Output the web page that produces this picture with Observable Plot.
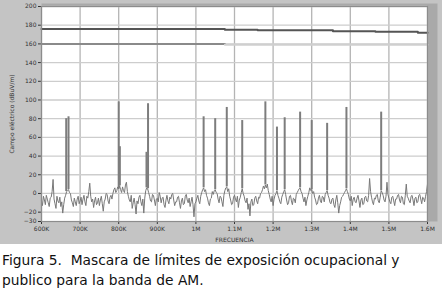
<!DOCTYPE html>
<html>
<head>
<meta charset="utf-8">
<script src="https://cdn.jsdelivr.net/npm/d3@7"></script>
<script src="https://cdn.jsdelivr.net/npm/@observablehq/plot@0.6"></script>
<style>
  html, body { margin: 0; padding: 0; background: #fff; }
  #chart svg { display: block; }
  .caption { font-family: "DejaVu Sans", sans-serif; font-size: 13.8px; color: #111; line-height: 20px; padding: 6px 0 0 2px; white-space: nowrap; }
</style>
</head>
<body>
<div id="chart"></div>
<div class="caption">Figura 5.&nbsp; Mascara de límites de exposición ocupacional y<br>publico para la banda de AM.</div>
<script>
// Noise floor sampling (kHz): 600 .. 1600 every 2.5 kHz
const startKHz = 600;
const stepKHz = 2.5;
const noise = [
  -8,-13,-3,-7,-12,-2,-6,-10,-14,-5,-4,2,15,-6,-11,-16,-3,-8,-10,-4,
  -14,-9,-21,-12,-5,-2,2,3,4,1,0,-7,-10,-14,-5,-9,-13,-6,-3,-11,
  -8,-4,-12,-6,-2,-9,-13,-3,-5,2,11,-3,-9,-6,-15,-8,-4,-12,-10,-5,
  -13,-7,-3,-11,-19,-9,-6,0,-1,-8,-11,-4,-2,-6,0,4,6,1,3,7,
  5,8,4,1,7,3,1,9,12,2,-3,-7,-9,-2,-16,-10,-5,-12,-22,-8,
  -11,-4,-2,-9,-13,-6,-21,-5,3,6,5,1,-3,-8,-9,-1,-2,-7,-13,-6,
  -5,-9,1,-3,-10,-5,-4,-12,-15,-7,-2,-8,-11,-4,-6,-1,0,-7,-13,-9,
  -9,-4,-3,-10,-16,-8,-5,-12,-11,-3,-1,-7,-10,-5,-14,-9,-4,-12,-25,-11,
  -9,-5,-2,-8,-11,-3,1,4,6,2,4,-2,-5,-10,-13,-6,-5,2,-1,3,
  4,1,0,-6,-10,-3,-4,-9,-14,-2,3,6,7,2,5,-3,-7,-12,-11,-4,
  -2,-6,-9,-3,-15,-7,-4,1,5,0,-3,-8,-10,-5,-17,-11,-24,-9,-6,-13,
  -12,-5,-3,-8,-11,-4,-5,0,1,4,8,5,9,6,10,3,-1,-6,-9,-3,
  -13,-6,-2,0,3,-2,-5,-9,-11,-4,-1,2,4,-1,-7,-12,-10,-3,-2,-8,
  -12,-5,-6,-10,-1,1,3,5,6,2,0,-5,-9,-4,-13,-7,-3,1,6,3,
  4,0,2,-4,-7,-12,-11,-5,-2,-8,-10,-3,-4,-9,-1,1,3,-2,-5,-10,
  -11,-6,-5,-12,-15,-7,-2,-10,-21,-13,-9,-4,-3,-1,1,3,5,2,-1,-6,
  -8,-3,-13,-6,-4,-9,-10,-5,-2,-8,-15,-7,-5,-12,-11,-4,-3,-8,-9,-2,
  16,2,-4,-9,-12,-5,-6,-2,-1,-8,-10,-4,3,1,-2,-7,-9,-3,12,-1,
  -5,-9,-11,-4,-3,-8,-13,-6,-6,-2,-1,-7,-10,-3,-4,-11,-12,-2,10,-3,
  -5,-8,-10,-3,-2,-7,-13,-5,-4,-10,-9,-2,-1,-6,-11,-4,-5,-9,-3,2,
  10
];
// Carrier peaks
const peakFreqKHz = [664, 670, 800, 803, 872, 876, 1020, 1050, 1080, 1120, 1180, 1210, 1230, 1270, 1300, 1340, 1390, 1480];
const peakLevel   = [80, 82, 98, 50, 44, 96, 82, 80, 92, 78, 98, 71, 81, 87, 78, 75, 92, 87];
// Occupational limit (upper dark line)
const occFreqKHz = [600, 1075, 1075, 1160, 1160, 1355, 1355, 1465, 1465, 1575, 1575, 1600];
const occLimit   = [176, 176, 175, 175, 174.5, 174.5, 173.5, 173.5, 173, 173, 172, 172];
// Public limit (second line)
const pubFreqKHzA = [600, 1075];
const pubLimitA   = [160, 160];
const pubFreqKHzB = [1075, 1600];
const pubLimitB   = [159, 159];
// Axis ticks
const xTicks = [600e3, 700e3, 800e3, 900e3, 1e6, 1.1e6, 1.2e6, 1.3e6, 1.4e6, 1.5e6, 1.6e6];
const xTickLabels = ["600K", "700K", "800K", "900K", "1M", "1.1M", "1.2M", "1.3M", "1.4M", "1.5M", "1.6M"];
const yTicks = [200, 180, 160, 140, 120, 100, 80, 60, 40, 20, 0, -20, -30];
const yGrid = [200, 180, 160, 140, 120, 100, 80, 60, 40, 20, 0, -20];

const spec = noise.map((v, i) => ({f: (startKHz + stepKHz * i) * 1e3, v}));
const floorAt = fk => noise[Math.min(noise.length - 1, Math.max(0, Math.round((fk - startKHz) / stepKHz)))];
const peaks = peakFreqKHz.map((f, i) => ({f: f * 1e3, base: floorAt(f), top: peakLevel[i]}));
const occ = occFreqKHz.map((f, i) => ({f: f * 1e3, v: occLimit[i]}));
const pubA = pubFreqKHzA.map((f, i) => ({f: f * 1e3, v: pubLimitA[i]}));
const pubB = pubFreqKHzB.map((f, i) => ({f: f * 1e3, v: pubLimitB[i]}));
const xLab = new Map(xTicks.map((t, i) => [t, xTickLabels[i]]));

const plot = Plot.plot({
  width: 442,
  height: 244,
  marginLeft: 41,
  marginRight: 15,
  marginTop: 6,
  marginBottom: 23,
  style: {background: "#c4c4c4", fontFamily: "DejaVu Sans, sans-serif", fontSize: "6px", color: "#333"},
  x: {domain: [600e3, 1.6e6], ticks: xTicks, tickFormat: d => xLab.get(d), tickSize: 3, tickPadding: 2, label: "FRECUENCIA", labelAnchor: "center", labelOffset: 20, labelArrow: "none"},
  y: {domain: [-30, 200], ticks: yTicks, tickSize: 3, tickPadding: 2, label: "Campo eléctrico (dBuV/m)", labelAnchor: "center", labelOffset: 32, labelArrow: "none"},
  marks: [
    Plot.frame({fill: "#a9a9a9", stroke: null, insetRight: -10, insetTop: -3}),
    Plot.frame({fill: "white", stroke: null}),
    Plot.gridX(xTicks, {stroke: "#b4b4b4", strokeOpacity: 1, strokeWidth: 1.3}),
    Plot.gridY(yGrid, {stroke: "#cdcdcd", strokeOpacity: 1, strokeWidth: 1.3}),
    Plot.line(spec, {x: "f", y: "v", stroke: "#787878", strokeWidth: 1}),
    Plot.ruleX(peaks, {x: "f", y1: "base", y2: "top", stroke: "#7d7d7d", strokeWidth: 2}),
    Plot.line(pubA, {x: "f", y: "v", stroke: "#8a8a8a", strokeWidth: 2}),
    Plot.line(pubB, {x: "f", y: "v", stroke: "#cfcfcf", strokeWidth: 2}),
    Plot.line(occ, {x: "f", y: "v", stroke: "#555", strokeWidth: 2}),
    Plot.frame({stroke: "#8c8c8c", strokeWidth: 1.2})
  ]
});
document.getElementById("chart").appendChild(plot);
</script>
</body>
</html>
